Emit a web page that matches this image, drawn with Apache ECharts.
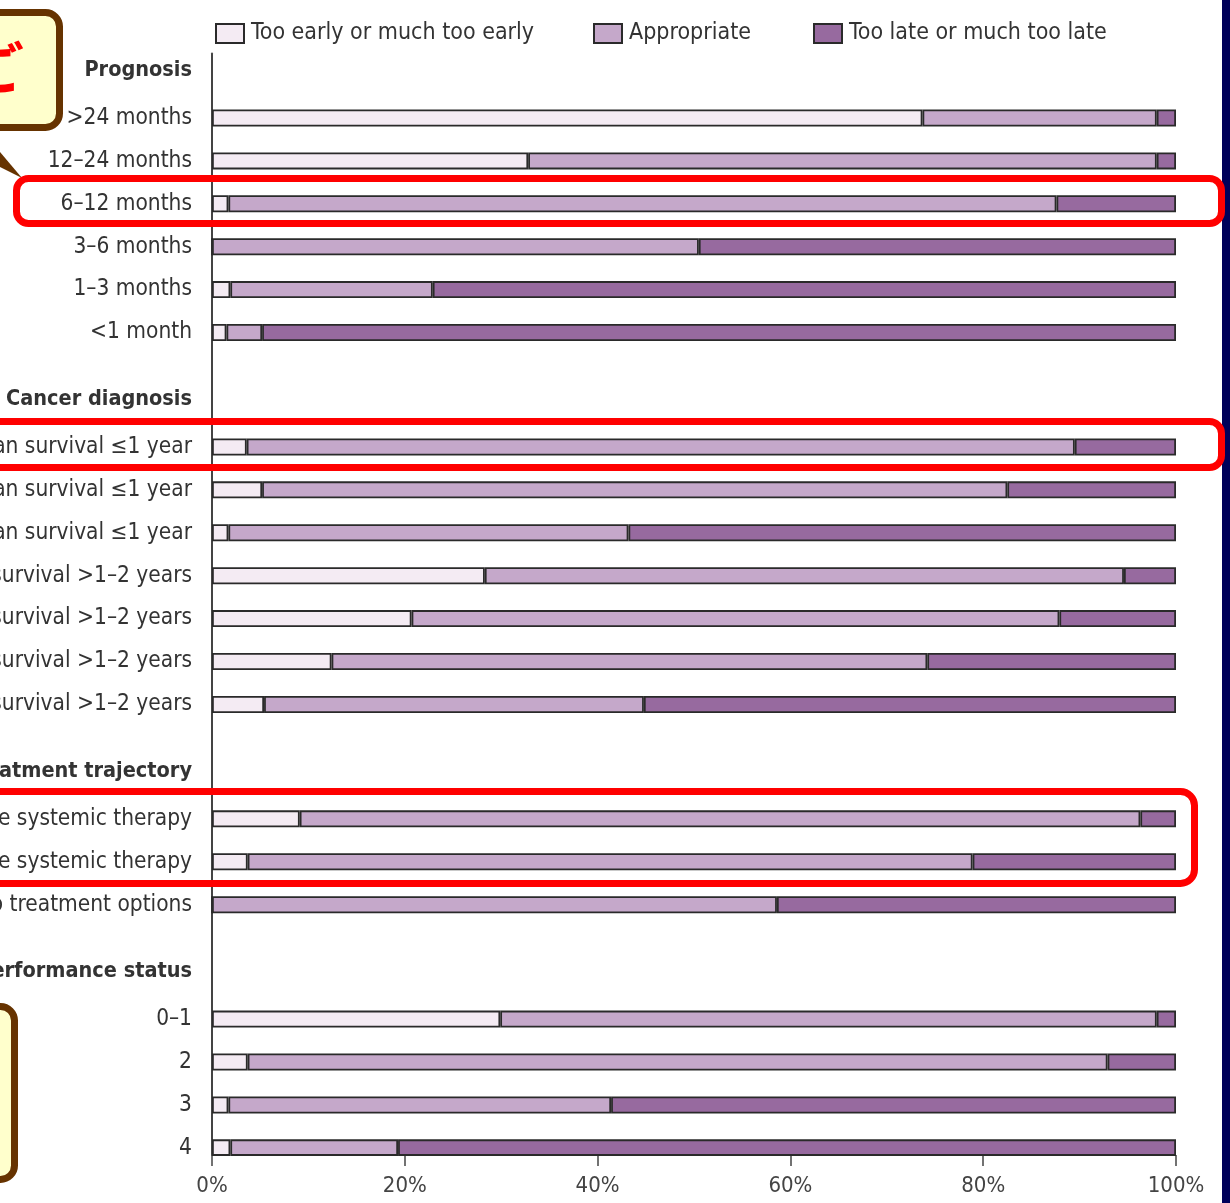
<!DOCTYPE html>
<html>
<head>
<meta charset="utf-8">
<script src="https://cdn.jsdelivr.net/npm/echarts@6/dist/echarts.min.js"></script>
<style>
  html, body { margin: 0; padding: 0; background: #fff; }
  #chart { width: 1230px; height: 1203px; }
</style>
</head>
<body>
<div id="chart"></div>
<script>
// --- data (percent of respondents) ---
const legendNames = ['Too early or much too early', 'Appropriate', 'Too late or much too late'];
const xTicks = ['0%', '20%', '40%', '60%', '80%', '100%'];

const sectionTitles = ['Prognosis', 'Cancer diagnosis', 'Treatment trajectory', 'Performance status'];

const prognosisRows = ['>24 months', '12–24 months', '6–12 months', '3–6 months', '1–3 months', '<1 month'];
const prognosisEarly = [73.7, 32.8, 1.7, 0, 1.9, 1.5];
const prognosisAppropriate = [24.3, 65.2, 85.9, 50.5, 21.0, 3.7];
const prognosisLate = [2.0, 2.0, 12.4, 49.5, 77.1, 94.8];

const cancerRows = ['median survival ≤1 year', 'median survival ≤1 year', 'median survival ≤1 year',
  'median survival >1–2 years', 'median survival >1–2 years', 'median survival >1–2 years', 'median survival >1–2 years'];
const cancerEarly = [3.6, 5.2, 1.7, 28.3, 20.7, 12.4, 5.4];
const cancerAppropriate = [85.9, 77.3, 41.5, 66.3, 67.2, 61.8, 39.4];
const cancerLate = [10.5, 17.5, 56.8, 5.4, 12.1, 25.8, 55.2];

const treatmentRows = ['line systemic therapy', 'line systemic therapy', 'No treatment options'];
const treatmentEarly = [9.1, 3.7, 0];
const treatmentAppropriate = [87.2, 75.2, 58.6];
const treatmentLate = [3.7, 21.1, 41.4];

const performanceRows = ['0–1', '2', '3', '4'];
const performanceEarly = [29.9, 3.7, 1.7, 1.9];
const performanceAppropriate = [68.1, 89.2, 39.7, 17.4];
const performanceLate = [2.0, 7.1, 58.6, 80.7];

const sections = [
  [prognosisRows, prognosisEarly, prognosisAppropriate, prognosisLate],
  [cancerRows, cancerEarly, cancerAppropriate, cancerLate],
  [treatmentRows, treatmentEarly, treatmentAppropriate, treatmentLate],
  [performanceRows, performanceEarly, performanceAppropriate, performanceLate]
];

// build the category slots: each row takes 3 slots, headers sit 3 slots above the first row
const slotKeys = [], slotLabels = [], early = [], appropriate = [], late = [];
function pushSlot(label, e, a, l) {
  slotKeys.push('s' + slotKeys.length);
  slotLabels.push(label);
  early.push(e); appropriate.push(a); late.push(l);
}
pushSlot('', '-', '-', '-');
sections.forEach((sec, si) => {
  pushSlot('{h|' + sectionTitles[si] + '}', '-', '-', '-');
  pushSlot('', '-', '-', '-');
  pushSlot('', '-', '-', '-');
  sec[0].forEach((name, i) => {
    if (i > 0) { pushSlot('', '-', '-', '-'); pushSlot('', '-', '-', '-'); }
    pushSlot(name, sec[1][i], sec[2][i], sec[3][i]);
  });
  if (si < sections.length - 1) {
    for (let k = 0; k < 4; k++) pushSlot('', '-', '-', '-');
  }
});

const FONT = 'DejaVu Sans Condensed';
const colors = ['#f4ebf3', '#c5a8ca', '#976a9f'];
const edge = '#2a2a2a';

const chart = echarts.init(document.getElementById('chart'));

function legendAt(left, name, color) {
  return {
    left: left, top: 17,
    icon: 'rect',
    itemWidth: 28, itemHeight: 19, itemGap: 0,
    data: [name],
    selectedMode: false,
    itemStyle: { color: color, borderColor: edge, borderWidth: 2 },
    textStyle: { fontFamily: FONT, fontSize: 23, color: '#333', padding: [0, 0, 0, 2] }
  };
}

const option = {
  backgroundColor: '#fff',
  animation: false,
  legend: [
    legendAt(210, legendNames[0], colors[0]),
    legendAt(588, legendNames[1], colors[1]),
    legendAt(808, legendNames[2], colors[2])
  ],
  grid: { left: 212, right: 54, top: 53.6, bottom: 48, containLabel: false, outerBoundsMode: 'none' },
  xAxis: {
    type: 'value', min: 0, max: 100, interval: 20,
    axisLine: { show: false },
    axisTick: { show: true, length: 11, lineStyle: { color: '#444', width: 1.5 } },
    splitLine: { show: false },
    axisLabel: {
      margin: 20, fontFamily: FONT, fontSize: 22, color: '#444',
      formatter: (v) => xTicks[Math.round(v / 20)]
    }
  },
  yAxis: {
    type: 'category', inverse: true, data: slotKeys,
    axisLine: { show: true, lineStyle: { color: '#444', width: 2 } },
    axisTick: { show: false },
    axisLabel: {
      interval: 0, margin: 20, fontFamily: FONT, fontSize: 22.5, color: '#333',
      formatter: (v, i) => slotLabels[i],
      rich: {
        h: { fontFamily: FONT, fontSize: 21.5, fontWeight: 'bold', color: '#333', padding: [0, 0, 10, 0] }
      }
    }
  },
  series: [early, appropriate, late].map((vals, k) => ({
    name: legendNames[k], type: 'bar', stack: 'total', barWidth: 17,
    data: vals,
    itemStyle: { color: colors[k], borderColor: edge, borderWidth: 1.8 }
  })),
  graphic: [
    // dark strip on the right edge
    { type: 'rect', shape: { x: 1222, y: 0, width: 8, height: 1203 }, style: { fill: '#00005a' }, z: 10 },
    // top-left callout
    { type: 'polygon', shape: { points: [[0, 152], [22, 178], [0, 167]] }, style: { fill: '#663300' }, z: 10 },
    { type: 'rect', shape: { x: -30, y: 12.5, width: 89.5, height: 115, r: 14 },
      style: { fill: '#ffffcc', stroke: '#663300', lineWidth: 7 }, z: 11 },
    { type: 'text', left: -32, top: 40, z: 12,
      style: { text: 'ご', fill: '#ff0000', font: 'bold 56px "Noto Sans CJK JP"' } },
    // bottom-left callout
    { type: 'rect', shape: { x: -40, y: 1006.5, width: 54.5, height: 173, r: 14 },
      style: { fill: '#ffffcc', stroke: '#663300', lineWidth: 7 }, z: 11 },
    // red highlight boxes
    { type: 'rect', shape: { x: 16.5, y: 178.5, width: 1205, height: 45, r: 12 },
      style: { fill: null, stroke: '#ff0000', lineWidth: 7 }, z: 13 },
    { type: 'rect', shape: { x: -20, y: 421.5, width: 1241.5, height: 46, r: 12 },
      style: { fill: null, stroke: '#ff0000', lineWidth: 7 }, z: 13 },
    { type: 'rect', shape: { x: -20, y: 791.5, width: 1214.5, height: 92, r: 14 },
      style: { fill: null, stroke: '#ff0000', lineWidth: 7 }, z: 13 }
  ]
};

chart.setOption(option);
</script>
</body>
</html>
